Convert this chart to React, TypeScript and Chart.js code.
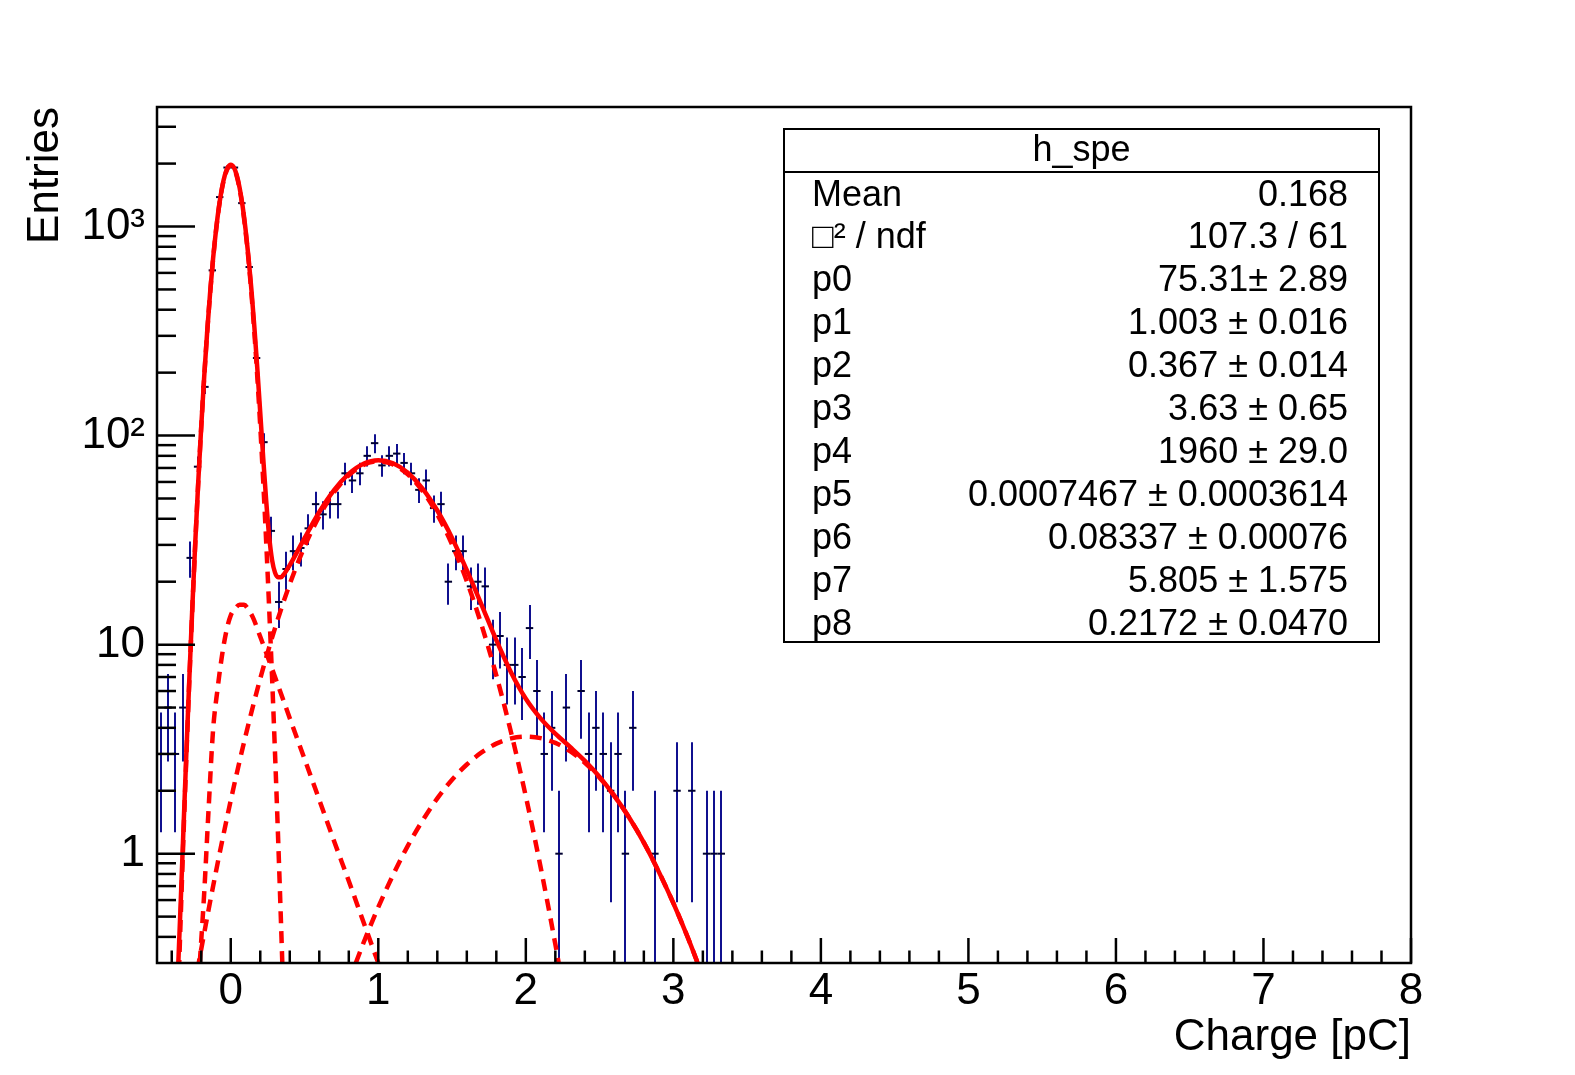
import React, { useEffect, useRef } from 'react';
import { Chart, registerables } from 'chart.js';

Chart.register(...registerables);

const FONT = "'Liberation Sans', Arial, Helvetica, sans-serif";

// ---- histogram (bin centres, counts) ----
const binCenters = [
  -0.475, -0.425, -0.375, -0.325, -0.275, -0.225, -0.175, -0.125, -0.075, -0.025,
  0.025, 0.075, 0.125, 0.175, 0.225, 0.275, 0.325, 0.375, 0.425, 0.475,
  0.525, 0.575, 0.625, 0.675, 0.725, 0.775, 0.825, 0.875, 0.925, 0.975,
  1.025, 1.075, 1.125, 1.175, 1.225, 1.275, 1.325, 1.375, 1.425, 1.475,
  1.525, 1.575, 1.625, 1.675, 1.725, 1.775, 1.825, 1.875, 1.925, 1.975,
  2.025, 2.075, 2.125, 2.175, 2.225, 2.275, 2.325, 2.375, 2.425, 2.475,
  2.525, 2.575, 2.625, 2.675, 2.725, 2.775, 2.825, 2.875, 2.925, 2.975,
  3.025, 3.075, 3.125, 3.175, 3.225, 3.275, 3.325,
];
const binCounts = [
  3, 5, 3, 5, 26, 71, 171, 617, 1383, 1915,
  1915, 1294, 640, 235, 93, 35, 16, 23, 28, 29,
  36, 47, 42, 47, 47, 66, 61, 66, 80, 92,
  72, 80, 82, 74, 66, 55, 61, 45, 47, 20,
  28, 28, 19, 20, 19, 10, 11, 8, 8, 7,
  12, 6, 3, 4, 1, 5, 0, 6, 3, 4,
  3, 2, 3, 1, 4, 0, 0, 1, 0, 0,
  2, 0, 2, 0, 1, 1, 1,
];
const binHalfWidth = 0.025;

// ---- total fit (solid) ----
const fitX = [
  -0.36, -0.34, -0.32, -0.3, -0.28, -0.26, -0.24, -0.22, -0.2, -0.18, -0.16, -0.14, -0.12, -0.1,
  -0.08, -0.06, -0.04, -0.02, 0, 0.02, 0.04, 0.06, 0.08, 0.1, 0.12, 0.14, 0.16, 0.18, 0.2, 0.22,
  0.24, 0.26, 0.28, 0.3, 0.32, 0.34, 0.36, 0.4, 0.45, 0.5, 0.6, 0.7, 0.8, 0.9, 1.0, 1.1, 1.2, 1.3,
  1.4, 1.5, 1.6, 1.7, 1.8, 1.9, 2.0, 2.1, 2.2, 2.3, 2.4, 2.5, 2.6, 2.7, 2.8, 2.9, 3.0, 3.1, 3.2,
];
const fitY = [
  0.25, 0.57, 1.35, 3.16, 7.13, 15.4, 31.5, 60.8, 111, 192, 313, 482, 701, 961,
  1245, 1523, 1760, 1918, 1976, 1921, 1765, 1531, 1256, 974, 715, 498, 330, 209, 128, 78,
  48.9, 33.1, 25.4, 22.1, 21.0, 21.0, 21.7, 24.0, 27.8, 32.3, 43.1, 54.9, 65.6, 73.3, 76.2, 73.7, 66.4, 55.8,
  43.8, 32.4, 22.7, 15.5, 10.5, 7.36, 5.51, 4.44, 3.75, 3.24, 2.78, 2.33, 1.89, 1.49, 1.13, 0.823, 0.58, 0.394, 0.258,
];

// ---- pedestal component (dashed) ----
const pedX = [
  -0.36, -0.34, -0.32, -0.3, -0.28, -0.26, -0.24, -0.22, -0.2, -0.18, -0.16, -0.14, -0.12, -0.1,
  -0.08, -0.06, -0.04, -0.02, 0, 0.02, 0.04, 0.06, 0.08, 0.1, 0.12, 0.14, 0.16, 0.18, 0.2, 0.22,
  0.24, 0.26, 0.28, 0.3, 0.32, 0.34, 0.36,
];
const pedY = [
  0.175, 0.479, 1.24, 3.02, 6.96, 15.1, 31.1, 60.3, 110.3, 190.6, 311, 479, 696, 955,
  1237, 1513, 1747, 1904, 1960, 1904, 1747, 1513, 1237, 955, 696, 479, 311, 190.6, 110.3, 60.3,
  31.1, 15.1, 6.96, 3.02, 1.24, 0.479, 0.175,
];

// ---- exponential background component (dashed) ----
const expX = [-0.21, -0.18, -0.15, -0.12, -0.09, -0.06, -0.03, 0, 0.03, 0.06, 0.09, 0.12, 0.15, 0.2, 0.3, 0.4, 0.5, 0.6, 0.7, 0.8, 0.9, 1.0, 1.05];
const expY = [0.3, 0.65, 1.65, 3.9, 6.1, 8.8, 11.6, 13.8, 14.9, 15.5, 15.5, 14.7, 13.5, 10.9, 7.0, 4.45, 2.84, 1.81, 1.15, 0.74, 0.47, 0.3, 0.24];

// ---- 1 p.e. component (dashed) ----
const pe1X = [-0.25, -0.2, -0.1, 0, 0.1, 0.2, 0.3, 0.4, 0.5, 0.6, 0.7, 0.8, 0.9, 1.0, 1.1, 1.2, 1.3, 1.4, 1.5, 1.6, 1.7, 1.8, 1.9, 2.0, 2.1, 2.2, 2.25];
const pe1Y = [0.222, 0.35, 0.823, 1.8, 3.65, 6.88, 12.0, 19.5, 29.4, 41.2, 53.6, 64.6, 72.4, 75.3, 72.7, 65.2, 54.3, 42.0, 30.1, 20.1, 12.4, 7.13, 3.8, 1.88, 0.864, 0.369, 0.234];

// ---- 2 p.e. component (dashed) ----
const pe2X = [0.8, 0.9, 1.0, 1.1, 1.2, 1.3, 1.4, 1.5, 1.6, 1.7, 1.8, 1.9, 2.0, 2.1, 2.2, 2.3, 2.4, 2.5, 2.6, 2.7, 2.8, 2.9, 3.0, 3.1, 3.2];
const pe2Y = [0.244, 0.375, 0.555, 0.791, 1.09, 1.44, 1.84, 2.26, 2.67, 3.05, 3.36, 3.56, 3.63, 3.57, 3.39, 3.09, 2.72, 2.31, 1.89, 1.49, 1.13, 0.823, 0.58, 0.394, 0.258];

// ---- axes ----
const xMajorTicks = [0, 1, 2, 3, 4, 5, 6, 7, 8];
const xMinorTicks = [
  -0.4, -0.2, 0.2, 0.4, 0.6, 0.8, 1.2, 1.4, 1.6, 1.8, 2.2, 2.4, 2.6, 2.8, 3.2, 3.4, 3.6, 3.8,
  4.2, 4.4, 4.6, 4.8, 5.2, 5.4, 5.6, 5.8, 6.2, 6.4, 6.6, 6.8, 7.2, 7.4, 7.6, 7.8,
];
const yMajorTicks = [1, 10, 100, 1000];
const yMajorLabels = ['1', '10', '10²', '10³'];
const yMinorTicks = [
  0.4, 0.5, 0.6, 0.7, 0.8, 0.9, 2, 3, 4, 5, 6, 7, 8, 9, 20, 30, 40, 50, 60, 70, 80, 90,
  200, 300, 400, 500, 600, 700, 800, 900, 2000, 3000,
];
const xTitle = 'Charge [pC]';
const yTitle = 'Entries';

// ---- statistics box ----
const statsTitle = 'h_spe';
const statsLabels = ['Mean', '□² / ndf', 'p0', 'p1', 'p2', 'p3', 'p4', 'p5', 'p6', 'p7', 'p8'];
const statsValues = [
  '0.168', '107.3 / 61', '75.31± 2.89', '1.003 ± 0.016', '0.367 ± 0.014', '3.63 ± 0.65',
  '1960 ± 29.0', '0.0007467 ± 0.0003614', '0.08337 ± 0.00076', '5.805 ± 1.575', '0.2172 ± 0.0470',
];

const toPts = (xs: number[], ys: number[]) => xs.map((x, i) => ({ x, y: ys[i] }));

const rootPlugin = {
  id: 'rootStyle',
  beforeDatasetsDraw(chart: any) {
    const { ctx, chartArea: a, scales } = chart;
    const xs = scales.x;
    const ys = scales.y;
    ctx.save();
    ctx.beginPath();
    ctx.rect(a.left, a.top, a.right - a.left, a.bottom - a.top);
    ctx.clip();
    ctx.strokeStyle = '#10108f';
    ctx.lineWidth = 2;
    binCenters.forEach((c, i) => {
      const n = binCounts[i];
      if (n <= 0) return;
      const e = Math.sqrt(n);
      const px = Math.round(xs.getPixelForValue(c));
      const hi = ys.getPixelForValue(n + e);
      const lo = n - e > 0 ? ys.getPixelForValue(n - e) : a.bottom + 10;
      ctx.beginPath();
      ctx.moveTo(px, lo);
      ctx.lineTo(px, hi);
      ctx.stroke();
    });
    ctx.restore();
  },
  afterDraw(chart: any) {
    const { ctx, chartArea: a, scales } = chart;
    const xs = scales.x;
    const ys = scales.y;
    ctx.save();
    ctx.strokeStyle = '#000';
    ctx.lineWidth = 2.5;
    ctx.lineCap = 'butt';
    const tick = (x1: number, y1: number, x2: number, y2: number) => {
      ctx.beginPath();
      ctx.moveTo(x1, y1);
      ctx.lineTo(x2, y2);
      ctx.stroke();
    };
    xMajorTicks.forEach((v) => {
      const p = xs.getPixelForValue(v);
      tick(p, a.bottom, p, a.bottom - 25);
    });
    xMinorTicks.forEach((v) => {
      const p = xs.getPixelForValue(v);
      tick(p, a.bottom, p, a.bottom - 12.5);
    });
    yMajorTicks.forEach((v) => {
      const p = ys.getPixelForValue(v);
      tick(a.left, p, a.left + 38, p);
    });
    yMinorTicks.forEach((v) => {
      const p = ys.getPixelForValue(v);
      tick(a.left, p, a.left + 19, p);
    });
    // frame
    ctx.strokeRect(a.left, a.top, a.right - a.left, a.bottom - a.top);

    // statistics box
    const bx = 784, by = 129, bw = 595, bh = 513;
    ctx.fillStyle = '#fff';
    ctx.fillRect(bx, by, bw, bh);
    ctx.lineWidth = 2;
    ctx.strokeRect(bx, by, bw, bh);
    ctx.beginPath();
    ctx.moveTo(bx, 172);
    ctx.lineTo(bx + bw, 172);
    ctx.stroke();
    ctx.fillStyle = '#000';
    ctx.font = `36px ${FONT}`;
    ctx.textBaseline = 'alphabetic';
    ctx.textAlign = 'center';
    ctx.fillText(statsTitle, bx + bw / 2, 161);
    statsLabels.forEach((lab, i) => {
      const yb = 205.5 + i * 42.9;
      ctx.textAlign = 'left';
      ctx.fillText(lab, 812, yb);
      ctx.textAlign = 'right';
      ctx.fillText(statsValues[i], 1348, yb);
    });
    ctx.restore();
  },
};

export default function App() {
  const ref = useRef<HTMLCanvasElement | null>(null);
  useEffect(() => {
    if (!ref.current) return;
    const lineDs = (label: string, xs: number[], ys: number[], dashed: boolean) => ({
      type: 'line' as const,
      label,
      data: toPts(xs, ys),
      showLine: true,
      borderColor: '#ff0000',
      borderWidth: 4.5,
      borderDash: dashed ? [12, 8] : [],
      pointRadius: 0,
      fill: false,
      cubicInterpolationMode: 'monotone' as const,
    });
    const histPts = binCenters
      .map((x, i) => ({ x, y: binCounts[i] }))
      .filter((p) => p.y > 0);
    const chart = new Chart(ref.current, {
      type: 'scatter',
      data: {
        datasets: [
          lineDs('fit', fitX, fitY, false),
          lineDs('pedestal', pedX, pedY, true),
          lineDs('background', expX, expY, true),
          lineDs('1 p.e.', pe1X, pe1Y, true),
          lineDs('2 p.e.', pe2X, pe2Y, true),
          {
            type: 'scatter' as const,
            label: 'h_spe',
            data: histPts,
            showLine: false,
            pointStyle: 'line',
            pointRadius: 3.7,
            pointHoverRadius: 3.7,
            borderWidth: 2,
            borderColor: '#000030',
            backgroundColor: '#000030',
          },
        ] as any,
      },
      options: {
        animation: false,
        responsive: false,
        devicePixelRatio: 1,
        events: [],
        layout: { padding: { left: 0, top: 107, right: 164, bottom: 0 } },
        plugins: { legend: { display: false }, tooltip: { enabled: false }, title: { display: false } },
        scales: {
          x: {
            type: 'linear',
            min: -0.5,
            max: 8,
            afterBuildTicks: (s: any) => {
              s.ticks = xMajorTicks.map((v) => ({ value: v }));
            },
            afterFit: (s: any) => {
              s.height = 112;
            },
            grid: { display: false, drawTicks: false },
            border: { display: false },
            ticks: {
              autoSkip: false,
              maxRotation: 0,
              minRotation: 0,
              padding: 2,
              color: '#000',
              font: { family: FONT, size: 44 },
              callback: (v: any) => String(v),
            },
            title: {
              display: true,
              text: xTitle,
              align: 'end',
              color: '#000',
              font: { family: FONT, size: 44 },
              padding: { top: 0, bottom: 11 },
            },
          },
          y: {
            type: 'logarithmic',
            min: 0.305,
            max: 3730,
            afterBuildTicks: (s: any) => {
              s.ticks = yMajorTicks.map((v) => ({ value: v }));
            },
            afterFit: (s: any) => {
              s.width = 157;
            },
            grid: { display: false, drawTicks: false },
            border: { display: false },
            ticks: {
              autoSkip: false,
              padding: 12,
              color: '#000',
              font: { family: FONT, size: 44 },
              callback: (v: any) => {
                const k = yMajorTicks.indexOf(Number(v));
                return k >= 0 ? yMajorLabels[k] : '';
              },
            },
            title: {
              display: true,
              text: yTitle,
              align: 'end',
              color: '#000',
              font: { family: FONT, size: 44 },
              padding: { top: 19, bottom: 0 },
            },
          },
        },
      } as any,
      plugins: [rootPlugin],
    });
    return () => chart.destroy();
  }, []);
  return (
    <div style={{ position: 'fixed', left: 0, top: 0, width: 1575, height: 1075, background: '#fff' }}>
      <canvas ref={ref} width={1575} height={1075} style={{ display: 'block', width: 1575, height: 1075 }} />
    </div>
  );
}
